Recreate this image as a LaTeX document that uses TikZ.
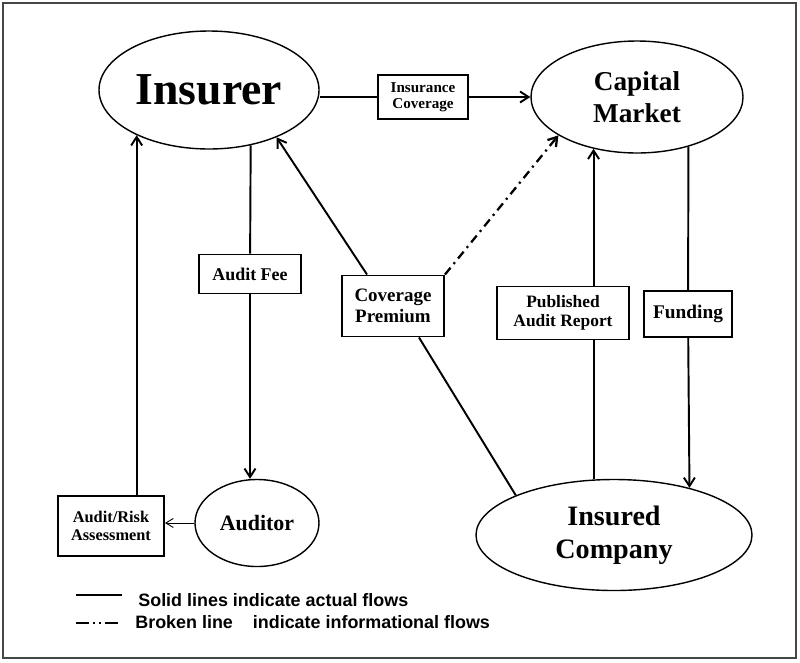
\documentclass[tikz,border=0pt]{standalone}
\usepackage{fontspec}
\setmainfont{Liberation Serif}
\newfontfamily\legendfont{Liberation Sans}
\usepackage{tikz}
\usetikzlibrary{arrows,arrows.meta,shapes,positioning,calc}
\usepackage{xcolor}
\definecolor{dfgray}{RGB}{70,70,70}
\tikzstyle{party} = [ellipse, draw=black, line width=0.8pt, align=center, inner sep=0pt]
\tikzstyle{flowbox} = [rectangle, draw=black, line width=1.1pt, fill=white, align=center, inner sep=0pt]
\tikzstyle{flow} = [line width=1.1pt]
\tikzstyle{arrow} = [line width=1.1pt,->,>={Straight Barb[length=1.7mm,width=2.2mm]}]
\tikzstyle{infoarrow} = [arrow, line width=1.3pt, dash pattern=on 5pt off 2.8pt on 1.2pt off 2.8pt]
\tikzstyle{thinarrow} = [line width=0.5pt,->,>={Straight Barb[length=1.5mm,width=1.8mm]}]
\tikzstyle{legend} = [anchor=west, inner sep=0pt, font=\legendfont\bfseries\fontsize{10.2}{12}\selectfont]

\begin{document}
\begin{tikzpicture}
\useasboundingbox (0,0) rectangle (16,-13.24);
\draw[dfgray, line width=1.6pt] (0.06,-0.06) rectangle (15.92,-13.16);

% parties
\node[party, minimum width=4.4cm, minimum height=2.36cm, font=\fontsize{26}{28}\selectfont\bfseries] (insurer) at (4.18,-1.8) {Insurer};
\node[party, minimum width=4.24cm, minimum height=2.24cm, font=\fontsize{15.5}{18.2}\selectfont\bfseries] (market) at (12.74,-1.94) {Capital\\Market};
\node[party, minimum width=2.48cm, minimum height=1.74cm, font=\fontsize{12.5}{14}\selectfont\bfseries] (auditor) at (5.14,-10.46) {Auditor};
\node[party, minimum width=5.52cm, minimum height=2.22cm, font=\fontsize{16}{18.8}\selectfont\bfseries] (insured) at (12.28,-10.7) {Insured\\Company};

% flow labels
\node[flowbox, minimum width=1.8cm, minimum height=0.88cm, font=\fontsize{8.6}{9}\selectfont\bfseries] (cover) at (8.46,-1.94) {Insurance\\Coverage};
\node[flowbox, minimum width=2.04cm, minimum height=0.78cm, font=\fontsize{10.2}{12}\selectfont\bfseries] (fee) at (5.0,-5.48) {Audit Fee};
\node[flowbox, minimum width=2.04cm, minimum height=1.22cm, font=\fontsize{10.8}{12}\selectfont\bfseries] (premium) at (7.86,-6.12) {Coverage\\Premium};
\node[flowbox, minimum width=2.64cm, minimum height=1.06cm, font=\fontsize{9.9}{11}\selectfont\bfseries] (report) at (11.26,-6.26) {Published\\Audit Report};
\node[flowbox, minimum width=1.76cm, minimum height=0.92cm, font=\fontsize{11}{12}\selectfont\bfseries] (funding) at (13.76,-6.28) {Funding};
\node[flowbox, minimum width=2.12cm, minimum height=1.2cm, font=\fontsize{9.3}{10.2}\selectfont\bfseries] (risk) at (2.22,-10.52) {Audit/Risk\\Assessment};

% flows
\draw[flow] (insurer.east |- cover.west) -- (cover.west);
\draw[arrow] (cover.east) -- (cover.east -| market.west);
\draw[flow] (insurer.-53) -- (fee);
\draw[arrow] (fee) -- (fee |- auditor.north);
\draw[thinarrow] (auditor.west) -- (auditor.west -| risk.east);
\draw[arrow] (risk.north -| insurer.-148) -- (insurer.-148);
\draw[flow] (insured.158) -- ($(premium.south)!0.5!(premium.south east)$);
\draw[arrow] ($(premium.north)!0.5!(premium.north west)$) -- (insurer.-35);
\draw[infoarrow] (premium.north east) -- (market.-154);
\draw[arrow] (market.-130 |- report.north) -- (market.-130);
\draw[flow] (market.-130 |- report.south) -- (market.-130 |- insured.north);
\draw[flow] (market.-44) -- (funding);
\draw[arrow] (funding) -- (insured.32);

% legend
\coordinate (solidA) at (1.52,-11.9);
\coordinate (solidB) at (2.44,-11.9);
\coordinate (brokenA) at (1.52,-12.46);
\coordinate (brokenB) at (2.44,-12.46);
\draw[flow] (solidA) -- (solidB);
\draw[flow, dash pattern=on 7.5pt off 2.3pt on 1.1pt off 2.3pt on 1.1pt off 2.3pt] (brokenA) -- (brokenB);
\node[legend] (solidtext) at (2.76,-12.0) {Solid lines indicate actual flows};
\node[legend] (brokentext) at (2.7,-12.44) {Broken line~~~ indicate informational flows};
\end{tikzpicture}
\end{document}
